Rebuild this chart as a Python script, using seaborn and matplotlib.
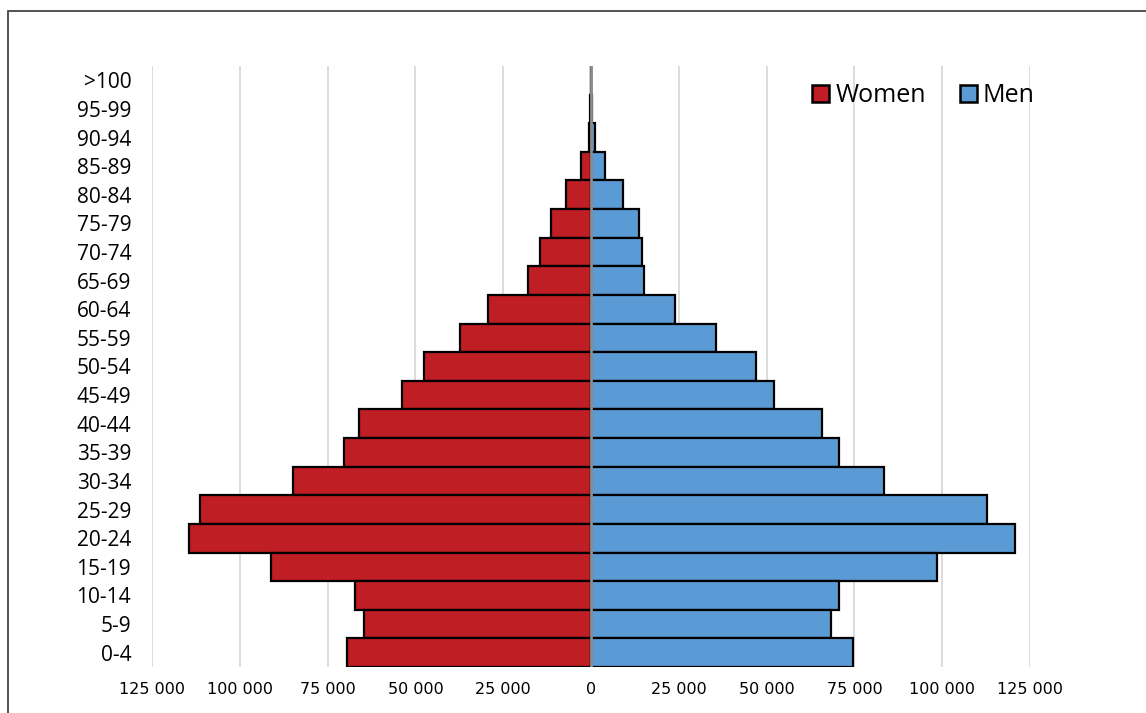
import matplotlib
matplotlib.use("Agg")
import matplotlib.pyplot as plt
import seaborn as sns
import pandas as pd
import numpy as np
from matplotlib.patches import Patch, Rectangle

ages = [">100", "95-99", "90-94", "85-89", "80-84", "75-79", "70-74", "65-69",
        "60-64", "55-59", "50-54", "45-49", "40-44", "35-39", "30-34", "25-29",
        "20-24", "15-19", "10-14", "5-9", "0-4"]
women = [20, 150, 700, 2800, 7000, 11400, 14500, 17800,
         29400, 37300, 47500, 53800, 66000, 70200, 84900, 111300,
         114500, 91000, 67200, 64700, 69400]
men = [40, 250, 1000, 4100, 9200, 13600, 14600, 15000,
       23800, 35500, 46900, 52200, 65700, 70500, 83500, 112800,
       120700, 98400, 70500, 68300, 74500]
xticks = [-125000, -100000, -75000, -50000, -25000, 0, 25000, 50000, 75000, 100000, 125000]

sns.set_style("white")
plt.rcParams['font.family'] = ['Open Sans', 'DejaVu Sans']
plt.rcParams['text.color'] = 'black'
plt.rcParams['xtick.color'] = 'black'
plt.rcParams['ytick.color'] = 'black'

fig = plt.figure(figsize=(11.46, 7.13), dpi=100)
ax = fig.add_axes([152/1146, 1-667/713, (1030-152)/1146, (667-66)/713])

red = "#BE1E24"
blue = "#5B9BD5"

df_w = pd.DataFrame({"age": ages, "value": [-v for v in women]})
df_m = pd.DataFrame({"age": ages, "value": men})

sns.barplot(data=df_w, x="value", y="age", order=ages, color=red, width=1.0,
            edgecolor="black", linewidth=1.6, saturation=1, ax=ax, zorder=2)
sns.barplot(data=df_m, x="value", y="age", order=ages, color=blue, width=1.0,
            edgecolor="black", linewidth=1.6, saturation=1, ax=ax, zorder=2)

ax.set_xlim(-125000, 125000)
ax.set_ylim(len(ages) - 0.5, -0.5)
ax.set_xticks(xticks)
ax.set_xticklabels([f"{abs(v):,}".replace(",", " ") for v in xticks],
                   fontsize=11.5, family=['Liberation Sans Narrow', 'DejaVu Sans'])
for lbl in ax.get_yticklabels():
    lbl.set_fontsize(15)
    lbl.set_color('black')
ax.tick_params(axis='y', pad=15, length=0)
ax.tick_params(axis='x', pad=11, length=0)
ax.set_xlabel("")
ax.set_ylabel("")
ax.xaxis.grid(True, color="#D9D9D9", linewidth=1.3, zorder=0)
ax.yaxis.grid(False)
ax.set_axisbelow(True)
for s in ax.spines.values():
    s.set_visible(False)
ax.axvline(0, color="#8C8C8C", linewidth=2, zorder=5)

handles = [Patch(facecolor=red, edgecolor="black", linewidth=1.8, label="Women"),
           Patch(facecolor=blue, edgecolor="black", linewidth=1.8, label="Men")]
leg = ax.legend(handles=handles, ncol=2, frameon=False, loc="upper left",
                bbox_to_anchor=(812/1146, 1-83/713), bbox_transform=fig.transFigure,
                fontsize=18, handlelength=0.68, handleheight=0.68,
                handletextpad=0.25, columnspacing=1.35, borderpad=0, borderaxespad=0)
for t in leg.get_texts():
    t.set_color('black')

fig.add_artist(Rectangle((8/1146, -0.1), 1.2, 1 - 11/713 + 0.1, transform=fig.transFigure,
                         fill=False, edgecolor="#444444", linewidth=1.3))

fig.savefig("out.png", dpi=100)
